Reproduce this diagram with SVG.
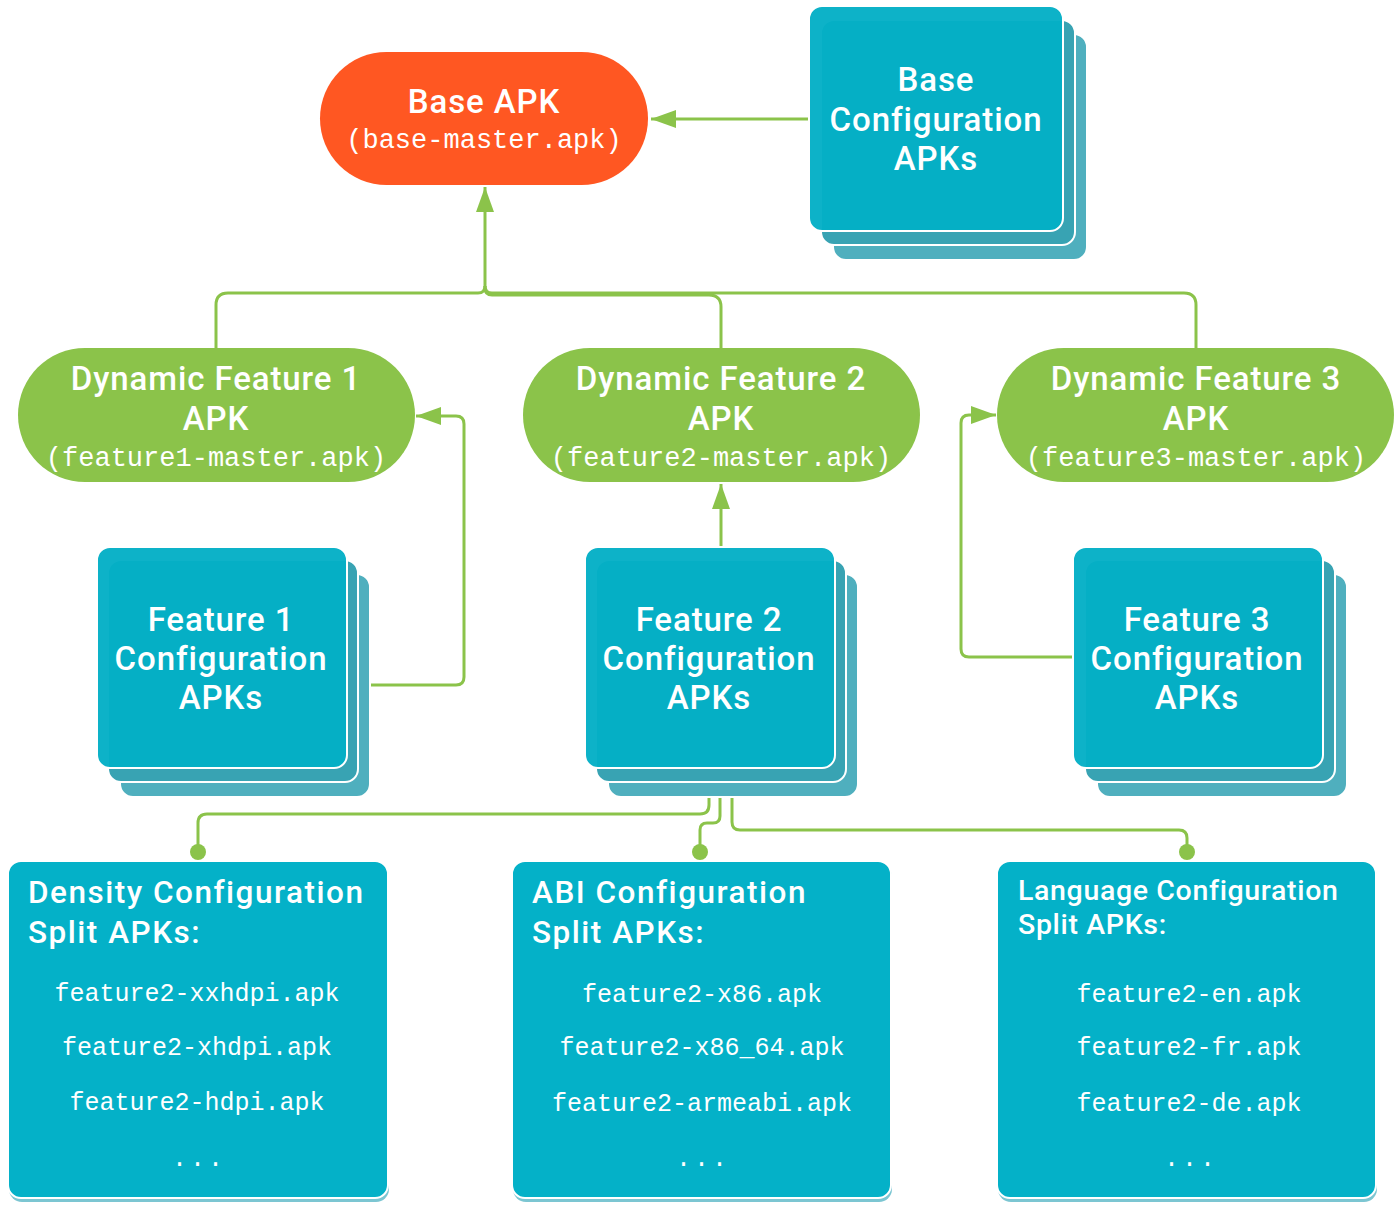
<svg xmlns="http://www.w3.org/2000/svg" width="1400" height="1209" viewBox="0 0 1400 1209">
  <style>
    .title { font-family: Roboto, "Liberation Sans", sans-serif; font-weight: 500; fill: #ffffff; letter-spacing: 0.9px; }
    .split-title { font-family: Roboto, "Liberation Sans", sans-serif; font-weight: 500; fill: #ffffff; letter-spacing: 1.5px; }
    .split-title.narrow { letter-spacing: 0.65px; }
    .mono { font-family: "Liberation Mono", "DejaVu Sans Mono", monospace; fill: #ffffff; }
    .pill-base { fill: #FF5722; }
    .pill-feat { fill: #8BC34A; }
    .layer-back { fill: #4FAFBE; stroke: #ffffff; stroke-width: 2; }
    .layer-mid { fill: #38A3B3; stroke: #ffffff; stroke-width: 2; }
    .layer-front { fill: #03AFC6; fill-opacity: 0.96; stroke: #ffffff; stroke-width: 2; }
    .split-shadow { fill: #7CC6D2; }
    .split-box { fill: #04B1C8; stroke: #ffffff; stroke-width: 2; }
    .wire { fill: none; stroke: #8BC34A; stroke-width: 3; stroke-linejoin: round; }
    .dot { fill: #8BC34A; }
  </style>
  <defs>
    <marker id="arrow" markerUnits="userSpaceOnUse" markerWidth="26" markerHeight="20" refX="25" refY="9" orient="auto">
      <path d="M0,0 L25,9 L0,18 Z" fill="#8BC34A"/>
    </marker>
  </defs>

  <rect width="1400" height="1209" fill="#ffffff"/>

  <!-- connectors -->
  <g id="connectors">
    <!-- base configuration -> base apk -->
    <path class="wire" d="M810,119 H651" marker-end="url(#arrow)"/>
    <!-- dynamic features -> base apk -->
    <path class="wire" d="M216,348 V305 Q216,293 228,293 H478 Q485,293 485,286"/>
    <path class="wire" d="M721,348 V307 Q721,295 709,295 H492 Q485,295 485,288"/>
    <path class="wire" d="M1196,348 V305 Q1196,293 1184,293 H492 Q485,293 485,286"/>
    <path class="wire" d="M485,288 V187" marker-end="url(#arrow)"/>
    <!-- feature config -> dynamic feature -->
    <path class="wire" d="M370,685 H456 Q464,685 464,677 V424 Q464,416 456,416 H416" marker-end="url(#arrow)"/>
    <path class="wire" d="M721,546 V484" marker-end="url(#arrow)"/>
    <path class="wire" d="M1073,657 H969 Q961,657 961,649 V423 Q961,415 969,415 H996" marker-end="url(#arrow)"/>
    <!-- feature 2 config -> split apks -->
    <path class="wire" d="M709,768 V805 Q709,814 700,814 H207 Q198,814 198,823 V852"/>
    <path class="wire" d="M720,782 V816 Q720,823 713,823 H707 Q700,823 700,830 V852"/>
    <path class="wire" d="M732,796 V822 Q732,830 740,830 H1179 Q1187,830 1187,838 V852"/>
    <circle class="dot" cx="198" cy="852" r="8"/>
    <circle class="dot" cx="700" cy="852" r="8"/>
    <circle class="dot" cx="1187" cy="852" r="8"/>
  </g>

  <!-- base apk -->
  <g id="base-apk">
    <rect class="pill-base" x="320" y="52" width="328" height="133" rx="66.5"/>
    <text class="title" x="484" y="113" font-size="33" text-anchor="middle">Base APK</text>
    <text class="mono" x="484" y="148" font-size="27" text-anchor="middle">(base-master.apk)</text>
  </g>

  <!-- base configuration apks -->
  <g id="base-config">
    <rect class="layer-back" x="833" y="34" width="254" height="226" rx="13"/>
    <rect class="layer-mid" x="821" y="20" width="254" height="225" rx="13"/>
    <rect class="layer-front" x="809" y="6" width="254" height="225" rx="13"/>
    <text class="title" x="936" y="91" font-size="33" text-anchor="middle">Base</text>
    <text class="title" x="936" y="131" font-size="33" text-anchor="middle">Configuration</text>
    <text class="title" x="936" y="170" font-size="33" text-anchor="middle">APKs</text>
  </g>

  <!-- dynamic feature apks -->
  <g id="dynamic-feature-1">
    <rect class="pill-feat" x="18" y="348" width="397" height="134" rx="67"/>
    <text class="title" x="216" y="390" font-size="33" text-anchor="middle">Dynamic Feature 1</text>
    <text class="title" x="216" y="430" font-size="33" text-anchor="middle">APK</text>
    <text class="mono" x="216" y="466" font-size="27" text-anchor="middle">(feature1-master.apk)</text>
  </g>
  <g id="dynamic-feature-2">
    <rect class="pill-feat" x="523" y="348" width="397" height="134" rx="67"/>
    <text class="title" x="721" y="390" font-size="33" text-anchor="middle">Dynamic Feature 2</text>
    <text class="title" x="721" y="430" font-size="33" text-anchor="middle">APK</text>
    <text class="mono" x="721" y="466" font-size="27" text-anchor="middle">(feature2-master.apk)</text>
  </g>
  <g id="dynamic-feature-3">
    <rect class="pill-feat" x="997" y="348" width="397" height="134" rx="67"/>
    <text class="title" x="1196" y="390" font-size="33" text-anchor="middle">Dynamic Feature 3</text>
    <text class="title" x="1196" y="430" font-size="33" text-anchor="middle">APK</text>
    <text class="mono" x="1196" y="466" font-size="27" text-anchor="middle">(feature3-master.apk)</text>
  </g>

  <!-- feature configuration apks -->
  <g id="feature1-config">
    <rect class="layer-back" x="120" y="574" width="250" height="223" rx="13"/>
    <rect class="layer-mid" x="108" y="560" width="250" height="222" rx="13"/>
    <rect class="layer-front" x="97" y="547" width="250" height="221" rx="13"/>
    <text class="title" x="221" y="631" font-size="33" text-anchor="middle">Feature 1</text>
    <text class="title" x="221" y="670" font-size="33" text-anchor="middle">Configuration</text>
    <text class="title" x="221" y="709" font-size="33" text-anchor="middle">APKs</text>
  </g>
  <g id="feature2-config">
    <rect class="layer-back" x="608" y="574" width="250" height="223" rx="13"/>
    <rect class="layer-mid" x="596" y="560" width="250" height="222" rx="13"/>
    <rect class="layer-front" x="585" y="547" width="250" height="221" rx="13"/>
    <text class="title" x="709" y="631" font-size="33" text-anchor="middle">Feature 2</text>
    <text class="title" x="709" y="670" font-size="33" text-anchor="middle">Configuration</text>
    <text class="title" x="709" y="709" font-size="33" text-anchor="middle">APKs</text>
  </g>
  <g id="feature3-config">
    <rect class="layer-back" x="1097" y="574" width="250" height="223" rx="13"/>
    <rect class="layer-mid" x="1085" y="560" width="250" height="222" rx="13"/>
    <rect class="layer-front" x="1073" y="547" width="250" height="221" rx="13"/>
    <text class="title" x="1197" y="631" font-size="33" text-anchor="middle">Feature 3</text>
    <text class="title" x="1197" y="670" font-size="33" text-anchor="middle">Configuration</text>
    <text class="title" x="1197" y="709" font-size="33" text-anchor="middle">APKs</text>
  </g>

  <!-- configuration split apks -->
  <g id="density-splits">
    <rect class="split-shadow" x="9" y="864" width="380" height="338" rx="13"/>
    <rect class="split-box" x="8" y="861" width="380" height="337" rx="13"/>
    <text class="split-title" x="28" y="903" font-size="31.5">Density Configuration</text>
    <text class="split-title" x="28" y="943" font-size="31.5">Split APKs:</text>
    <text class="mono" x="197" y="1001" font-size="25" text-anchor="middle">feature2-xxhdpi.apk</text>
    <text class="mono" x="197" y="1055" font-size="25" text-anchor="middle">feature2-xhdpi.apk</text>
    <text class="mono" x="197" y="1110" font-size="25" text-anchor="middle">feature2-hdpi.apk</text>
    <text class="mono" x="199" y="1166" font-size="25" text-anchor="middle" letter-spacing="3">...</text>
  </g>
  <g id="abi-splits">
    <rect class="split-shadow" x="513" y="864" width="379" height="338" rx="13"/>
    <rect class="split-box" x="512" y="861" width="379" height="337" rx="13"/>
    <text class="split-title" x="532" y="903" font-size="31.5">ABI Configuration</text>
    <text class="split-title" x="532" y="943" font-size="31.5">Split APKs:</text>
    <text class="mono" x="702" y="1002" font-size="25" text-anchor="middle">feature2-x86.apk</text>
    <text class="mono" x="702" y="1055" font-size="25" text-anchor="middle">feature2-x86_64.apk</text>
    <text class="mono" x="702" y="1111" font-size="25" text-anchor="middle">feature2-armeabi.apk</text>
    <text class="mono" x="703" y="1166" font-size="25" text-anchor="middle" letter-spacing="3">...</text>
  </g>
  <g id="language-splits">
    <rect class="split-shadow" x="998" y="864" width="379" height="338" rx="13"/>
    <rect class="split-box" x="997" y="861" width="379" height="337" rx="13"/>
    <text class="split-title narrow" x="1018" y="900" font-size="28.5">Language Configuration</text>
    <text class="split-title narrow" x="1018" y="934" font-size="28.5">Split APKs:</text>
    <text class="mono" x="1189" y="1002" font-size="25" text-anchor="middle">feature2-en.apk</text>
    <text class="mono" x="1189" y="1055" font-size="25" text-anchor="middle">feature2-fr.apk</text>
    <text class="mono" x="1189" y="1111" font-size="25" text-anchor="middle">feature2-de.apk</text>
    <text class="mono" x="1191" y="1166" font-size="25" text-anchor="middle" letter-spacing="3">...</text>
  </g>
</svg>
